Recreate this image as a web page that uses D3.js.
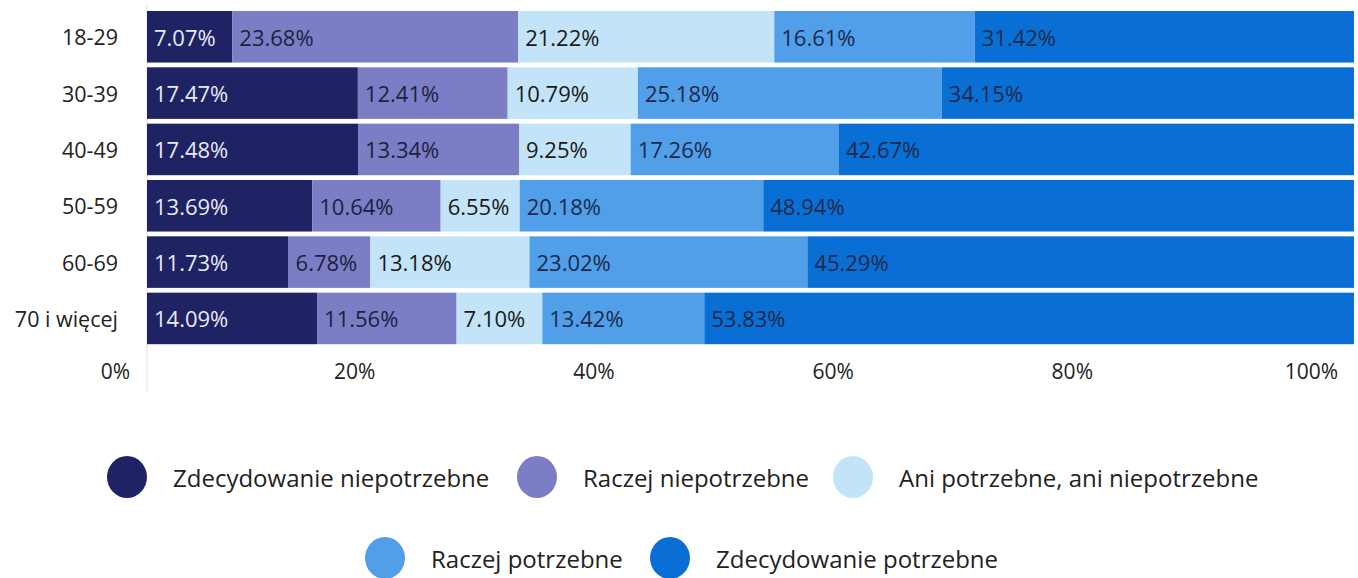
<!DOCTYPE html>
<html>
<head>
<meta charset="utf-8">
<script src="https://cdn.jsdelivr.net/npm/d3@7"></script>
<style>
  html, body { margin: 0; padding: 0; background: #fff; }
  svg { display: block; font-family: "Open Sans", sans-serif; }
</style>
</head>
<body>
<svg id="chart" width="1358" height="578"></svg>
<script>
// Age groups (rows)
const ageGroups = ["18-29", "30-39", "40-49", "50-59", "60-69", "70 i więcej"];

// Answer categories (stack order, left to right)
const answerNames = [
  "Zdecydowanie niepotrzebne",
  "Raczej niepotrzebne",
  "Ani potrzebne, ani niepotrzebne",
  "Raczej potrzebne",
  "Zdecydowanie potrzebne"
];
const answerColors = ["#1f2263", "#7c7ec5", "#c3e3f8", "#519fe9", "#0a6fd5"];
const labelColors  = ["#e9e9f6", "#1d2140", "#1a1a1a", "#1d2a4a", "#1d2a4a"];

// Shares in % per age group
const zdecydowanieNiepotrzebne = [7.07, 17.47, 17.48, 13.69, 11.73, 14.09];
const raczejNiepotrzebne       = [23.68, 12.41, 13.34, 10.64, 6.78, 11.56];
const aniPotrzebneAniNie       = [21.22, 10.79, 9.25, 6.55, 13.18, 7.10];
const raczejPotrzebne          = [16.61, 25.18, 17.26, 20.18, 23.02, 13.42];
const zdecydowaniePotrzebne    = [31.42, 34.15, 42.67, 48.94, 45.29, 53.83];

// Axis ticks
const tickValues = [0, 20, 40, 60, 80, 100];

const seriesValues = [
  zdecydowanieNiepotrzebne, raczejNiepotrzebne, aniPotrzebneAniNie,
  raczejPotrzebne, zdecydowaniePotrzebne
];

const rows = ageGroups.map((g, i) => {
  const r = { group: g };
  answerNames.forEach((n, k) => { r[n] = seriesValues[k][i]; });
  return r;
});

const svg = d3.select("#chart");

const x = d3.scaleLinear().domain([0, 100]).range([147, 1354]);
const xAxisScale = d3.scaleLinear().domain([0, 100]).range([115, 1311]);
const y = d3.scaleBand().domain(ageGroups).range([8.6, 346.6])
  .paddingInner(0.085).paddingOuter(0.0425);

// light baseline at 0
svg.append("line")
  .attr("x1", x(0)).attr("x2", x(0))
  .attr("y1", 5).attr("y2", 393)
  .attr("stroke", "#ececec").attr("stroke-width", 1.5);

const stacked = d3.stack().keys(answerNames)(rows);

const layers = svg.append("g").selectAll("g")
  .data(stacked).join("g")
  .attr("fill", (d, i) => answerColors[i]);

layers.selectAll("rect")
  .data(d => d)
  .join("rect")
  .attr("x", d => x(d[0]))
  .attr("y", d => y(d.data.group))
  .attr("width", d => x(d[1]) - x(d[0]))
  .attr("height", y.bandwidth());

// value labels
svg.append("g").selectAll("g")
  .data(stacked).join("g")
  .attr("fill", (d, i) => labelColors[i])
  .selectAll("text")
  .data(d => d.map(v => ({ v, key: d.key })))
  .join("text")
  .attr("x", d => x(d.v[0]) + 7)
  .attr("y", d => y(d.v.data.group) + y.bandwidth() / 2)
  .attr("dominant-baseline", "central")
  .attr("font-size", 22)
  .text(d => d.v.data[d.key].toFixed(2) + "%");

// category labels
svg.append("g").selectAll("text")
  .data(ageGroups).join("text")
  .attr("x", 118)
  .attr("y", d => y(d) + y.bandwidth() / 2)
  .attr("text-anchor", "end")
  .attr("dominant-baseline", "central")
  .attr("font-size", 21.5)
  .attr("fill", "#222")
  .text(d => d);

// percentage axis
const axis = d3.axisBottom(xAxisScale)
  .tickValues(tickValues)
  .tickSize(0)
  .tickPadding(0)
  .tickFormat(d => d + "%");

const axisG = svg.append("g")
  .attr("transform", "translate(0,364)")
  .call(axis);
axisG.select(".domain").remove();
axisG.selectAll("text")
  .attr("font-family", "Open Sans, sans-serif")
  .attr("font-size", 21)
  .attr("fill", "#222")
  .attr("dy", "0.71em");

// legend
const legendItems = [
  { i: 0, cx: 127, cy: 477 },
  { i: 1, cx: 537, cy: 477 },
  { i: 2, cx: 853, cy: 477 },
  { i: 3, cx: 385, cy: 558 },
  { i: 4, cx: 670, cy: 558 }
];
const legend = svg.append("g").selectAll("g")
  .data(legendItems).join("g")
  .attr("transform", d => `translate(${d.cx},${d.cy})`);
legend.append("ellipse")
  .attr("rx", 20).attr("ry", 21)
  .attr("fill", d => answerColors[d.i]);
legend.append("text")
  .attr("x", 46)
  .attr("dominant-baseline", "central")
  .attr("font-size", 24)
  .attr("fill", "#222")
  .text(d => answerNames[d.i]);
</script>
</body>
</html>
